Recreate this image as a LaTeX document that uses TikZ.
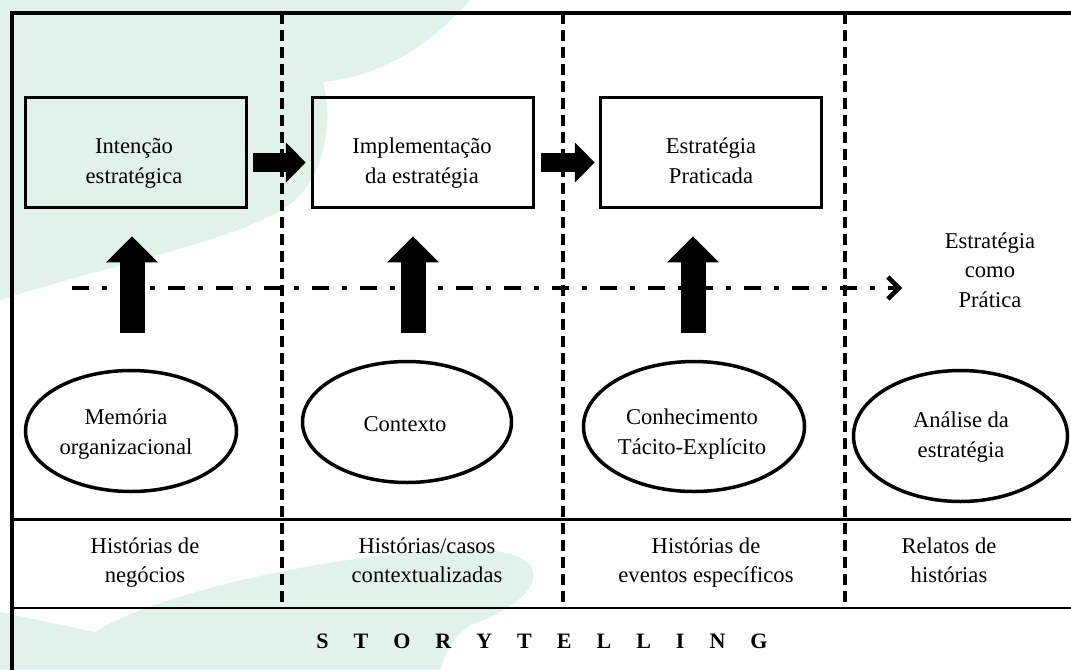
\documentclass[tikz,border=0pt]{standalone}
\usepackage{fontspec}
\setmainfont{Liberation Serif}
\usetikzlibrary{arrows.meta,shapes.geometric,calc}
\definecolor{wmgreen}{RGB}{225,243,233}
\newcommand\bodyfont{\fontsize{22.6}{29.5}\selectfont}
\newcommand\lsp{\hspace{25pt}}
\tikzset{
  stbox/.style={draw, line width=3.5pt, minimum width=221pt, minimum height=110pt, inner sep=0pt},
  stell/.style={draw, ellipse, line width=3.5pt, inner sep=0pt},
  sttxt/.style={font=\bodyfont, align=center, inner sep=0pt},
  frameline/.style={line width=3.5pt},
  colsep/.style={line width=4pt, dash pattern=on 11pt off 6pt},
  blockarr/.style={line width=19pt, -{Triangle[length=20pt,width=39pt]}},
  uparr/.style={line width=25pt, -{Triangle[length=26pt,width=50pt]}},
  dashdot/.style={line width=4.5pt, dash pattern=on 17pt off 13pt on 5pt off 13pt, -{Straight Barb[length=11pt,width=22pt]}},
}
\begin{document}
\begin{tikzpicture}[x=1pt,y=-1pt]
\useasboundingbox (0,0) rectangle (1071,670);
% watermark
\fill[wmgreen] (0,0) -- (470,0) .. controls (430,45) and (385,75) .. (323,82)
  .. controls (335,125) and (322,185) .. (285,208)
  .. controls (230,242) and (110,265) .. (0,300) -- cycle;
\fill[wmgreen] (0,612) -- (95,632) .. controls (160,590) and (360,548) .. (480,550)
  .. controls (560,552) and (545,600) .. (470,625)
  .. controls (450,640) and (445,655) .. (440,670) -- (0,670) -- cycle;
% frame
\draw[frameline] (12,670) -- (12,13) -- (1071,13);
\draw[line width=3pt] (12,519) -- (1071,519);
\draw[line width=2pt] (12,608) -- (1071,608);
\foreach \x in {282,563,845} \draw[colsep] (\x,13) -- (\x,608);
% boxes
\node[stbox] (b1) at (136,152.5) {};
\node[stbox] (b2) at (423,152.5) {};
\node[stbox] (b3) at (711,152.5) {};
\node[sttxt] (t1) at (134,162.6) {\strut Intenção\\\strut estratégica};
\node[sttxt] (t2) at (422,162.6) {\strut Implementação\\\strut da estratégia};
\node[sttxt] (t3) at (711,162.6) {\strut Estratégia\\\strut Praticada};
% ellipses
\node[stell, minimum width=211pt, minimum height=121pt] (e1) at (131,431) {};
\node[stell, minimum width=209pt, minimum height=121pt] (e2) at (407,422) {};
\node[stell, minimum width=221pt, minimum height=130pt] (e3) at (694,426.5) {};
\node[stell, minimum width=214pt, minimum height=131pt] (e4) at (960.5,436) {};
\node[sttxt] (u1) at (126,433.6) {\strut Memória\\\strut organizacional};
\node[sttxt] (u2) at (405,425.6) {\strut Contexto};
\node[sttxt] (u3) at (692,433.6) {\strut Conhecimento\\\strut Tácito-Explícito};
\node[sttxt] (u4) at (961,436.6) {\strut Análise da\\\strut estratégia};
% right text
\node[sttxt] (ecp) at (990,272) {\strut Estratégia\\\strut como\\\strut Prática};
% bottom row texts
\node[sttxt] (h1) at (145,562) {\strut Histórias de\\\strut negócios};
\node[sttxt] (h2) at (427,562) {\strut Histórias/casos\\\strut contextualizadas};
\node[sttxt] (h3) at (706,562) {\strut Histórias de\\\strut eventos específicos};
\node[sttxt] (h4) at (949,562) {\strut Relatos de\\\strut histórias};
\node[inner sep=0pt, font=\bfseries\fontsize{22}{29.5}\selectfont] (story) at (542,643)
  {\strut S\lsp T\lsp O\lsp R\lsp Y\lsp T\lsp E\lsp L\lsp L\lsp I\lsp N\lsp G};
% dash-dot arrow
\coordinate (ds) at (72,288);
\coordinate (de) at (902,288);
\draw[dashdot] (ds) -- (de);
% block arrows
\draw[blockarr, shorten <=5pt, shorten >=5pt] ($(b1.east)+(0,10)$) -- ($(b2.west)+(0,10)$);
\draw[blockarr, shorten <=6pt, shorten >=4pt] ($(b2.east)+(0,10)$) -- ($(b3.west)+(0,10)$);
\draw[uparr, shorten <=36pt, shorten >=27pt] ($(e1.north)+(1,0)$) -- ($(e1.north |- b1.south)+(1,0)$);
\draw[uparr, shorten <=27pt, shorten >=27pt] ($(e2.north)+(6,0)$) -- ($(e2.north |- b2.south)+(6,0)$);
\draw[uparr, shorten <=27pt, shorten >=27pt] ($(e3.north)+(-1,0)$) -- ($(e3.north |- b3.south)+(-1,0)$);
\end{tikzpicture}
\end{document}
